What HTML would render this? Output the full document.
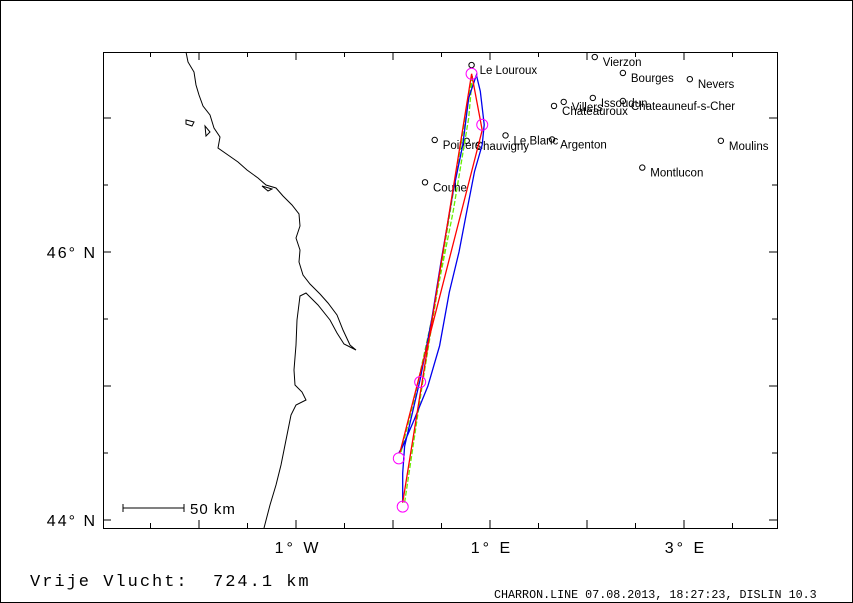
<!DOCTYPE html>
<html><head><meta charset="utf-8"><style>
html,body{margin:0;padding:0;background:#fff;}
svg{display:block;font-family:"Liberation Sans",sans-serif;}
</style></head><body>
<svg id="map" width="853" height="603" viewBox="0 0 853 603" xmlns="http://www.w3.org/2000/svg">
<rect x="0.5" y="0.5" width="852" height="602" fill="#fff" stroke="#000"/>
<rect x="103.5" y="52.5" width="674" height="476" fill="none" stroke="#000"/>
<g id="ticks"></g>
<path fill="none" stroke="#000" stroke-width="1" d="M186,52 L188,62 L194,72 L196,85 L199,95 L203,106 L210,115 L214,128 L220,137 L218,148 L228,155 L238,162 L247,170 L258,178 L266,185 L276,188 L283,196 L292,205 L299,214 L300,226 L296,238 L300,250 L299,262 L303,275 L310,284 L320,294 L328,303 L337,315 L343,330 L350,345 L356,350 L344,344 L337,333 L330,320 L318,305 L306,293 L300,296 L297,320 L296,345 L294,370 L295,385 L302,392 L306,400 L296,405 L291,415 L286,440 L281,465 L276,485 L270,505 L264,528"/>
<path fill="none" stroke="#000" d="M186,120 L194,122 L192,126 L186,124 Z M205,126 L210,132 L206,136 Z M262,186 L272,189 L268,191 Z"/>
<g id="cities"></g>
<g id="tracks"></g>
<line x1="123" y1="508" x2="184" y2="508" stroke="#000"/>
<line x1="123" y1="504" x2="123" y2="512" stroke="#000"/><line x1="184" y1="504" x2="184" y2="512" stroke="#000"/>
<text x="190" y="514" font-size="15" letter-spacing="1">50 km</text>
<text x="30" y="586" font-size="17" letter-spacing="2" font-family="Liberation Mono, monospace" xml:space="preserve">Vrije Vlucht:  724.1 km</text>
<text x="494" y="598" font-size="11.7" font-family="Liberation Mono, monospace">CHARRON.LINE 07.08.2013, 18:27:23, DISLIN 10.3</text>
</svg>
<script>
const cityNames=["Vierzon","Bourges","Nevers","Issoudun","Chateauneuf-s-Cher","Chateauroux","Villers","Le Louroux","Poitiers","Chauvigny","Le Blanc","Argenton","Moulins","Montlucon","Couhe"];
const cityLon=[2.08,2.37,3.06,2.06,2.37,1.66,1.76,0.81,0.43,0.76,1.16,1.64,3.38,2.57,0.33];
const cityLat=[47.455,47.336,47.29,47.15,47.127,47.09,47.12,47.395,46.836,46.83,46.87,46.84,46.83,46.63,46.52];
const redLon=[0.10,0.81,0.92,0.07];
const redLat=[44.13,47.33,46.91,44.50];
const blueLon=[0.10,0.10,0.12,0.28,0.40,0.50,0.62,0.72,0.78,0.86,0.90,0.94,0.92,0.84,0.80,0.76,0.68,0.58,0.48,0.36,0.22,0.10,0.06];
const blueLat=[44.13,44.35,44.55,45.05,45.50,45.95,46.45,46.80,47.15,47.32,47.20,46.95,46.80,46.60,46.45,46.30,46.00,45.70,45.30,45.00,44.75,44.55,44.50];
const greenLon=[0.12,0.30,0.50,0.70,0.82,0.78,0.62,0.40,0.22,0.08];
const greenLat=[44.13,45.00,45.90,46.80,47.32,47.00,46.30,45.50,44.90,44.50];
const markLon=[0.10,0.06,0.28,0.92,0.81];
const markLat=[44.10,44.46,45.03,46.95,47.33];
const lonTicks=[-3,-2.5,-2,-1.5,-1,-0.5,0,0.5,1,1.5,2,2.5,3,3.5];
const latTicks=[44,44.5,45,45.5,46,46.5,47];
const lonLabels=[["1° W",-1],["1° E",1],["3° E",3]];
const latLabels=[["44° N",44],["46° N",46]];
const X=lon=>490+(lon-1)*97, Y=lat=>252-(lat-46)*134;
const NS="http://www.w3.org/2000/svg";
function mk(parent,tag,attrs){const e=document.createElementNS(NS,tag);for(const k in attrs)e.setAttribute(k,attrs[k]);parent.appendChild(e);return e;}
const tg=document.getElementById('ticks');
lonTicks.forEach(v=>{const x=X(v);if(x<104||x>777)return;const L=Number.isInteger(v)?8:5;
 const a=mk(tg,'line',{x1:x,y1:528,x2:x,y2:528-L,stroke:'#000'});
 mk(tg,'line',{x1:x,y1:52,x2:x,y2:52+L,stroke:'#000'});});
latTicks.forEach(v=>{const y=Y(v);const L=Number.isInteger(v)?8:5;
 const a=mk(tg,'line',{x1:103,y1:y,x2:103+L,y2:y,stroke:'#000'});
 mk(tg,'line',{x1:777,y1:y,x2:777-L,y2:y,stroke:'#000'});});
lonLabels.forEach(([t,v])=>{const e=mk(tg,'text',{x:X(v)+2,y:553,'font-size':16,'letter-spacing':3,'text-anchor':'middle'});e.textContent=t;
 });
latLabels.forEach(([t,v])=>{const e=mk(tg,'text',{x:97,y:Y(v)+6,'font-size':16,'letter-spacing':2,'text-anchor':'end'});e.textContent=t;
 });
const cg=document.getElementById('cities');
cityNames.forEach((n,i)=>{const x=X(cityLon[i]),y=Y(cityLat[i]);
 const c=mk(cg,'circle',{cx:x,cy:y,r:2.7,fill:'none',stroke:'#000'});
 
 const t=mk(cg,'text',{x:x+8,y:y+9,'font-size':11.5});t.textContent=n;
 });
const trg=document.getElementById('tracks');
function line(lons,lats,col,name,dash){const p=lons.map((v,i)=>X(v).toFixed(1)+','+Y(lats[i]).toFixed(1)).join(' ');
 const a={points:p,fill:'none',stroke:col,'stroke-width':1.3};if(dash)a['stroke-dasharray']=dash;
 const e=mk(trg,'polyline',a);}
line(greenLon,greenLat,'#66ee00','track-green','5,2');
line(blueLon,blueLat,'#0000ee','track-blue');
line(redLon,redLat,'#ff0000','course-red');
markLon.forEach((v,i)=>{const e=mk(trg,'circle',{cx:X(v),cy:Y(markLat[i]),r:5.5,fill:'none',stroke:'#ff00ff'});
 });
</script>
</body></html>
